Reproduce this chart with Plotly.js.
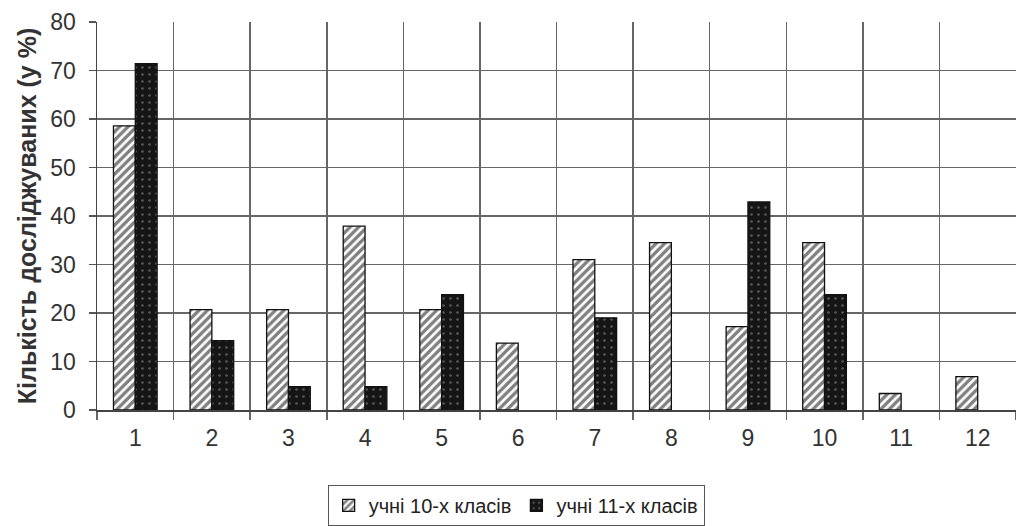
<!DOCTYPE html>
<html>
<head>
<meta charset="utf-8">
<script src="https://cdn.plot.ly/plotly-3.0.1.min.js"></script>
<style>html,body{margin:0;padding:0;background:#fff;}#chart{width:1016px;height:526px;}</style>
</head>
<body>
<div id="chart"></div>
<script>
const categories = ['1','2','3','4','5','6','7','8','9','10','11','12'];
const grade10 = [58.6, 20.7, 20.7, 37.9, 20.7, 13.8, 31.0, 34.5, 17.2, 34.5, 3.4, 6.9];
const grade11 = [71.4, 14.3, 4.8, 4.8, 23.8, 0, 19.0, 0, 42.9, 23.8, 0, 0];
const seriesNames = ['учні 10-х класів', 'учні 11-х класів'];
const yTicks = [0, 10, 20, 30, 40, 50, 60, 70, 80];

// zero-height bars are not drawn in the reference
const hideZero = arr => arr.map(v => (v === 0 ? null : v));

const traces = [
  {
    type: 'bar', x: categories, y: hideZero(grade10), name: seriesNames[0],
    marker: {
      color: '#ffffff',
      line: {color: '#111', width: 1.3},
      pattern: {shape: '/', bgcolor: '#ffffff', fgcolor: '#000', size: 6, solidity: 0.55, fillmode: 'overlay'}
    }
  },
  {
    type: 'bar', x: categories, y: hideZero(grade11), name: seriesNames[1],
    marker: {
      color: '#151515',
      line: {color: '#111', width: 1.3},
      pattern: {shape: '.', bgcolor: '#151515', fgcolor: '#9a9a9a', size: 7, solidity: 0.12, fillmode: 'overlay'}
    }
  }
];

const layout = {
  width: 1016, height: 526,
  margin: {l: 97, r: 0, t: 22, b: 116},
  paper_bgcolor: '#fff', plot_bgcolor: '#fff',
  barmode: 'group', bargap: 0.43, bargroupgap: 0,
  font: {family: 'Liberation Sans, Arial, sans-serif', color: '#333', size: 23},
  showlegend: true,
  legend: {
    orientation: 'h', xref: 'container', yref: 'container',
    x: 0.508, xanchor: 'center', y: 0.078, yanchor: 'top',
    bordercolor: '#555', borderwidth: 1, bgcolor: '#fff',
    font: {size: 20, color: '#222'}, traceorder: 'normal',
    itemwidth: 30, tracegroupgap: 0
  },
  xaxis: {
    type: 'category', tickson: 'boundaries', ticks: 'outside', ticklen: 8,
    tickcolor: '#666', tickwidth: 1.5,
    showgrid: true, gridcolor: '#666', gridwidth: 1.5,
    showline: true, linecolor: '#444', linewidth: 1.5,
    tickfont: {size: 23, color: '#333'}, ticklabelstandoff: 7, automargin: false
  },
  yaxis: {
    range: [0, 80], tickvals: yTicks, ticks: 'outside', ticklen: 7,
    tickcolor: '#555', tickwidth: 1.5,
    showgrid: true, gridcolor: '#666', gridwidth: 1.5,
    showline: true, linecolor: '#444', linewidth: 1.5, zeroline: false,
    tickfont: {size: 23, color: '#333'}, ticklabelstandoff: 8,
    title: {text: '<b>Кількість досліджуваних (у %)</b>', font: {size: 25, color: '#333'}, standoff: 6},
    automargin: false
  }
};

Plotly.newPlot('chart', traces, layout, {displayModeBar: false, staticPlot: true});
</script>
</body>
</html>
